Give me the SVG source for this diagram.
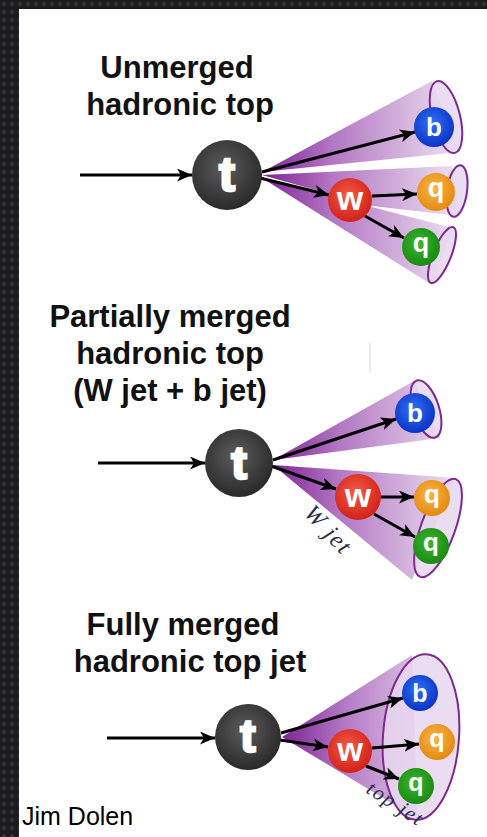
<svg xmlns="http://www.w3.org/2000/svg" width="487" height="837" viewBox="0 0 487 837">
<defs>
  <pattern id="tex" width="8" height="8" patternUnits="userSpaceOnUse">
    <rect width="8" height="8" fill="#1c1c20"/>
    <circle cx="4" cy="4" r="2" fill="#34343a"/>
  </pattern>
  <linearGradient id="cone1" gradientUnits="userSpaceOnUse" x1="262" y1="0" x2="460" y2="0">
    <stop offset="0" stop-color="#7e2393"/>
    <stop offset="0.35" stop-color="#b276c2"/>
    <stop offset="1" stop-color="#eee2f2"/>
  </linearGradient>
  <linearGradient id="cone2" gradientUnits="userSpaceOnUse" x1="273" y1="0" x2="460" y2="0">
    <stop offset="0" stop-color="#7e2393"/>
    <stop offset="0.35" stop-color="#b276c2"/>
    <stop offset="1" stop-color="#eee2f2"/>
  </linearGradient>
  <linearGradient id="cone3" gradientUnits="userSpaceOnUse" x1="282" y1="0" x2="440" y2="0">
    <stop offset="0" stop-color="#7e2393"/>
    <stop offset="0.4" stop-color="#b47ac4"/>
    <stop offset="1" stop-color="#e6d6ec"/>
  </linearGradient>
  <radialGradient id="gT" cx="0.45" cy="0.4" r="0.6">
    <stop offset="0" stop-color="#5c5c5c"/>
    <stop offset="1" stop-color="#2a2a2a"/>
  </radialGradient>
  <radialGradient id="gB" cx="0.45" cy="0.4" r="0.6">
    <stop offset="0" stop-color="#2f72f5"/>
    <stop offset="1" stop-color="#0b33c6"/>
  </radialGradient>
  <radialGradient id="gW" cx="0.45" cy="0.4" r="0.6">
    <stop offset="0" stop-color="#f65a45"/>
    <stop offset="1" stop-color="#d0221a"/>
  </radialGradient>
  <radialGradient id="gO" cx="0.45" cy="0.4" r="0.6">
    <stop offset="0" stop-color="#fbb445"/>
    <stop offset="1" stop-color="#e38a12"/>
  </radialGradient>
  <radialGradient id="gG" cx="0.45" cy="0.4" r="0.6">
    <stop offset="0" stop-color="#3fb52e"/>
    <stop offset="1" stop-color="#188a12"/>
  </radialGradient>
  <marker id="ah" markerUnits="userSpaceOnUse" markerWidth="15" markerHeight="13" refX="15" refY="6.5" orient="auto">
    <path d="M0,0 L15,6.5 L0,13 L4,6.5 z" fill="#000"/>
  </marker>
  <style>
    .title{font-family:"Liberation Sans",Arial,sans-serif;font-weight:bold;font-size:31px;fill:#111;text-anchor:middle}
    .cap{fill:#e7d7ee;fill-opacity:0.85;stroke:#7c2a8f;stroke-width:2}
    .arr{stroke:#000;stroke-width:3;fill:none;marker-end:url(#ah)}
    .lt{font-family:"Liberation Sans",Arial,sans-serif;font-weight:bold;fill:#fff;text-anchor:middle}
    .jl{font-family:"Liberation Serif","Times New Roman",serif;font-style:italic;font-size:24px;fill:#2b2b4a;letter-spacing:1.5px}
  </style>
</defs>
<rect width="487" height="837" fill="#fff"/>
<rect x="0" y="0" width="487" height="9" fill="url(#tex)"/>
<rect x="0" y="0" width="19" height="837" fill="url(#tex)"/>
<line x1="370" y1="343" x2="370" y2="373" stroke="#d8d8d8" stroke-width="1"/>

<!-- Panel 1 -->
<g id="panel1-title">
  <text class="title" x="177" y="78">Unmerged</text>
  <text class="title" x="180" y="115">hadronic top</text>
</g>
<g id="panel1-jets">
  <polygon points="262,172 432,81 460,152" fill="url(#cone1)"/>
  <polygon points="262,175 452,166 460,216 372,206" fill="url(#cone1)"/>
  <polygon points="262,178 360,204 453,228 432,285" fill="url(#cone1)"/>
  <ellipse class="cap" cx="446" cy="117" rx="14" ry="37" transform="rotate(-14 446 117)"/>
  <ellipse class="cap" cx="457" cy="191" rx="10" ry="26" transform="rotate(8 457 191)"/>
  <ellipse class="cap" cx="442" cy="255" rx="9" ry="30" transform="rotate(22 442 255)"/>
</g>
<g id="panel1-connectors">
  <line class="arr" x1="80" y1="175" x2="192" y2="175"/>
  <line class="arr" x1="262" y1="172" x2="415" y2="132"/>
  <line class="arr" x1="260" y1="178" x2="329" y2="195"/>
  <line class="arr" x1="372" y1="196" x2="417" y2="194"/>
  <line class="arr" x1="365" y1="216" x2="404" y2="238"/>
</g>
<g id="p1-t"><circle cx="227" cy="175" r="35" fill="url(#gT)"/><text class="lt" x="227" y="191" font-size="48" stroke="#fff" stroke-width="2.5">t</text></g>
<g id="p1-b"><circle cx="434" cy="127" r="20" fill="url(#gB)"/><text class="lt" x="434" y="136" font-size="26">b</text></g>
<g id="p1-w"><circle cx="350" cy="200" r="22" fill="url(#gW)"/><text class="lt" x="350" y="210" font-size="34">w</text></g>
<g id="p1-q1"><circle cx="436" cy="192" r="19" fill="url(#gO)"/><text class="lt" x="436" y="197" font-size="27">q</text></g>
<g id="p1-q2"><circle cx="421" cy="247" r="19" fill="url(#gG)"/><text class="lt" x="421" y="252" font-size="27">q</text></g>

<!-- Panel 2 -->
<g id="panel2-title">
  <text class="title" x="170" y="327">Partially merged</text>
  <text class="title" x="170" y="364">hadronic top</text>
  <text class="title" x="170" y="401">(W jet + b jet)</text>
</g>
<g id="panel2-jets">
  <polygon points="273,460 414,381 440,438" fill="url(#cone2)"/>
  <polygon points="273,465 456,478 412,580" fill="url(#cone2)"/>
  <ellipse class="cap" cx="426" cy="409" rx="13" ry="30" transform="rotate(-18 426 409)"/>
  <ellipse class="cap" cx="438" cy="528" rx="17" ry="52" transform="rotate(20 438 528)"/>
  <text class="jl" transform="translate(303,514) rotate(47)">W jet</text>
</g>
<g id="panel2-connectors">
  <line class="arr" x1="98" y1="463" x2="205" y2="463"/>
  <line class="arr" x1="273" y1="460" x2="396" y2="419"/>
  <line class="arr" x1="271" y1="466" x2="336" y2="489"/>
  <line class="arr" x1="381" y1="497" x2="414" y2="497"/>
  <line class="arr" x1="374" y1="514" x2="415" y2="537"/>
</g>
<g id="p2-t"><circle cx="239" cy="463" r="34" fill="url(#gT)"/><text class="lt" x="239" y="479" font-size="47" stroke="#fff" stroke-width="2.5">t</text></g>
<g id="p2-b"><circle cx="415" cy="413" r="20" fill="url(#gB)"/><text class="lt" x="415" y="422" font-size="26">b</text></g>
<g id="p2-w"><circle cx="358" cy="497" r="23" fill="url(#gW)"/><text class="lt" x="358" y="507" font-size="34">w</text></g>
<g id="p2-q1"><circle cx="432" cy="498" r="18" fill="url(#gO)"/><text class="lt" x="432" y="503" font-size="26">q</text></g>
<g id="p2-q2"><circle cx="431" cy="546" r="18" fill="url(#gG)"/><text class="lt" x="431" y="551" font-size="26">q</text></g>

<!-- Panel 3 -->
<g id="panel3-title">
  <text class="title" x="183" y="635">Fully merged</text>
  <text class="title" x="190" y="672">hadronic top jet</text>
</g>
<g id="panel3-jets">
  <polygon points="282,737 412,655 418,819" fill="url(#cone3)"/>
  <ellipse class="cap" cx="421" cy="737" rx="38" ry="83" transform="rotate(4 421 737)"/>
  <text class="jl" font-size="21" transform="translate(365,792) rotate(33)" style="font-size:21px">top jet</text>
</g>
<g id="panel3-connectors">
  <line class="arr" x1="107" y1="738" x2="215" y2="738"/>
  <line class="arr" x1="281" y1="733" x2="403" y2="698"/>
  <line class="arr" x1="280" y1="740" x2="328" y2="747"/>
  <line class="arr" x1="372" y1="748" x2="419" y2="744"/>
  <line class="arr" x1="366" y1="766" x2="399" y2="779"/>
</g>
<g id="p3-t"><circle cx="248" cy="737" r="33" fill="url(#gT)"/><text class="lt" x="248" y="752" font-size="46" stroke="#fff" stroke-width="2.5">t</text></g>
<g id="p3-b"><circle cx="420" cy="693" r="18" fill="url(#gB)"/><text class="lt" x="420" y="702" font-size="25">b</text></g>
<g id="p3-w"><circle cx="350" cy="751" r="22" fill="url(#gW)"/><text class="lt" x="350" y="761" font-size="33">w</text></g>
<g id="p3-q1"><circle cx="437" cy="742" r="18" fill="url(#gO)"/><text class="lt" x="437" y="747" font-size="25">q</text></g>
<g id="p3-q2"><circle cx="416" cy="786" r="18" fill="url(#gG)"/><text class="lt" x="416" y="791" font-size="25">q</text></g>

<g id="credit"><text x="22" y="825" font-family="Liberation Sans, Arial, sans-serif" font-size="25" fill="#000">Jim Dolen</text></g>
</svg>
